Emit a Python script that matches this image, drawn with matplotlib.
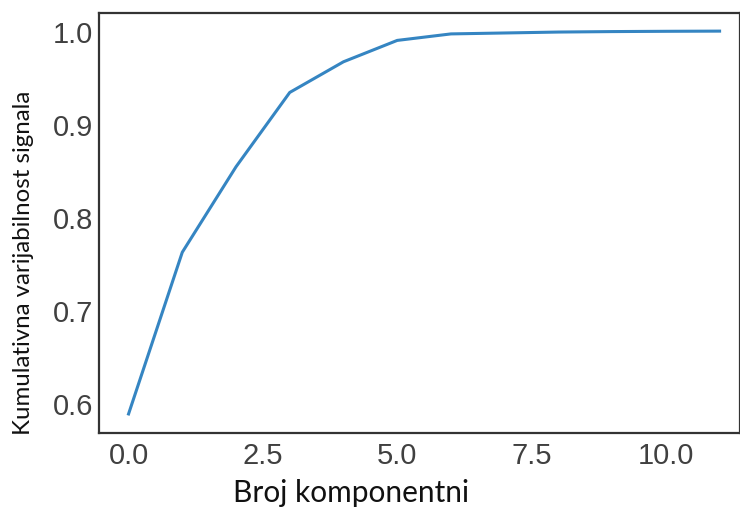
import matplotlib.pyplot as plt
import numpy as np

# broj komponenti (PCA) i kumulativna objasnjena varijansa
components = np.arange(12)
cum_variance = [0.588, 0.762, 0.854, 0.934, 0.967, 0.990,
                0.997, 0.998, 0.999, 0.9995, 0.9998, 1.0]

x_ticks = [0.0, 2.5, 5.0, 7.5, 10.0]
y_ticks = [0.6, 0.7, 0.8, 0.9, 1.0]

fig = plt.figure(figsize=(7.4, 5.1), dpi=100)
ax = fig.add_axes([99 / 740, 1 - 434 / 510, 641 / 740, 420 / 510])

ax.plot(components, cum_variance, color="#3585c2", linewidth=2.2)

ax.set_xlim(-0.55, 11.38)
ax.set_ylim(0.5675, 1.0195)
ax.set_xticks(x_ticks)
ax.set_yticks(y_ticks)
ax.set_xticklabels([f"{v:.1f}" for v in x_ticks])
ax.set_yticklabels([f"{v:.1f}" for v in y_ticks])
ax.tick_params(length=0, labelsize=21, labelcolor="#404040", pad=6)
ax.tick_params(axis="y", pad=4)
for lbl in ax.get_xticklabels() + ax.get_yticklabels():
    lbl.set_family("Liberation Sans")
for s in ax.spines.values():
    s.set_color("#333333")
    s.set_linewidth(1.6)

# oznake osi (dodane naknadno, nisu centrirane na osi)
fig.text(351 / 740, 1 - 493 / 510, "Broj komponentni", fontsize=21.5,
         family="Lato", color="#111111", ha="center", va="center")
fig.text(24 / 740, 1 - 263 / 510, "Kumulativna varijabilnost signala",
         fontsize=17.3, family="Lato", color="#111111", rotation=90,
         ha="center", va="center")

fig.savefig("out.png", dpi=100)
